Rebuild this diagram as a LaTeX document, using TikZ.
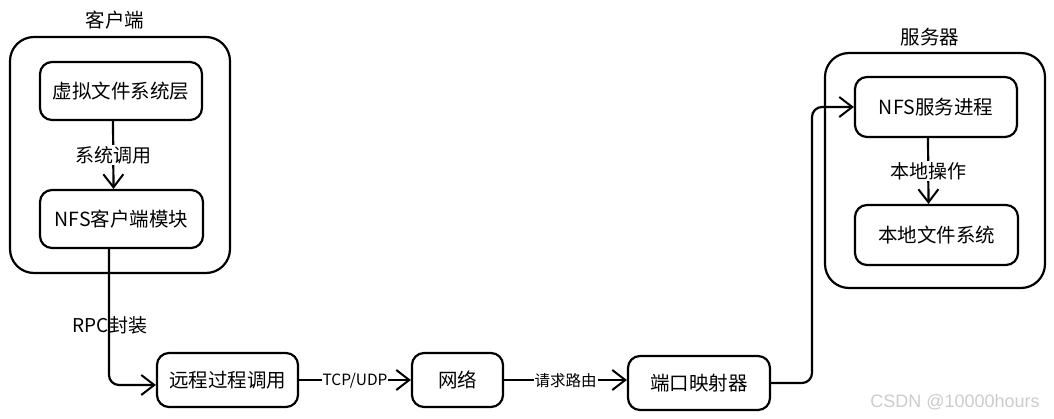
\documentclass[tikz,border=0pt]{standalone}
\usepackage{fontspec}
\setmainfont{Noto Sans CJK SC}
\newfontfamily\wmfont{Liberation Sans}
\usetikzlibrary{arrows.meta}
\tikzset{
  box/.style={draw, line width=2.2pt, rounded corners=12pt, font=\fontsize{19.5}{21}\selectfont, inner sep=0pt},
  outer/.style={draw, line width=2.2pt, rounded corners=24pt, inner sep=0pt},
  title/.style={font=\fontsize{19.5}{21}\selectfont},
  arr/.style={line width=2.2pt, -{Straight Barb[length=13pt, width=20pt, line width=2pt]}},
  lbl/.style={fill=white, inner sep=1.5pt, font=\fontsize{19}{21}\selectfont},
  slbl/.style={fill=white, inner sep=1pt, font=\fontsize{15.5}{17}\selectfont},
}
\begin{document}
\begin{tikzpicture}[x=1pt, y=-1pt]
\useasboundingbox (0,0) rectangle (1054,419);
% client
\node[outer, minimum width=220pt, minimum height=236pt] (client) at (120,155) {};
\node[title] (clientT) at (115,20) {客户端};
\node[box, minimum width=162pt, minimum height=58pt] (vfs) at (121,91) {虚拟文件系统层};
\node[box, minimum width=163pt, minimum height=58pt] (nfsc) at (121.5,219) {NFS客户端模块};
% server
\node[outer, minimum width=220pt, minimum height=235pt] (server) at (935,170.5) {};
\node[title] (serverT) at (930,37) {服务器};
\node[box, minimum width=162pt, minimum height=60pt] (nfss) at (936,107) {NFS服务进程};
\node[box, minimum width=163pt, minimum height=60pt] (lfs) at (936.5,235) {本地文件系统};
% bottom row
\node[box, minimum width=141pt, minimum height=54pt] (rpc) at (227.5,380) {远程过程调用};
\node[box, minimum width=91pt, minimum height=54pt] (net) at (457.5,380) {网络};
\node[box, minimum width=142pt, minimum height=54pt] (port) at (699,383) {端口映射器};
% connectors
\draw[arr] ([xshift=-8pt]vfs.south) -- node[lbl] {系统调用} ([xshift=-8pt]nfsc.north);
\draw[arr, rounded corners=10pt] ([xshift=-12.5pt]nfsc.south) |- ([yshift=-5pt]rpc.west);
\node[font=\fontsize{19}{21}\selectfont] (rpcL) at (110,325) {RPC封装};
\draw[arr] (rpc.east) -- node[slbl, yshift=-1pt] {TCP/UDP} (net.west);
\draw[arr] (net.east) -- node[slbl, yshift=-1pt] {请求路由} (port.west |- net.east);
\coordinate (turn) at (812,107);
\draw[arr, rounded corners=10pt] (port.east) -| (turn) -- (nfss.west);
\draw[arr] ([xshift=-8pt]nfss.south) -- node[lbl] {本地操作} ([xshift=-8pt]lfs.north);
% watermark
\node[font=\wmfont\fontsize{18}{20}\selectfont, text=black!20] (wm) at (955,402) {CSDN @10000hours};
\end{tikzpicture}
\end{document}
